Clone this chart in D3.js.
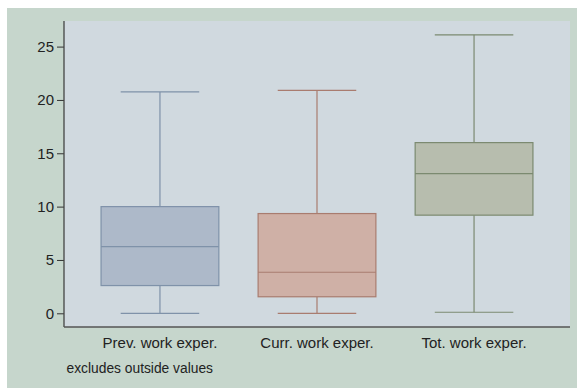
<!DOCTYPE html>
<html>
<head>
<meta charset="utf-8">
<script src="https://cdn.jsdelivr.net/npm/d3@7"></script>
<style>
  body { margin: 0; background: #ffffff; }
  text { font-family: "Liberation Sans", Arial, sans-serif; fill: #222; }
</style>
</head>
<body>
<script>
// box plot data
let categories = ["Prev. work exper.", "Curr. work exper.", "Tot. work exper."]
let lowerWhisker = [0, 0, 0.1]
let q1 = [2.6, 1.55, 9.2]
let median = [6.25, 3.85, 13.1]
let q3 = [10, 9.35, 16]
let upperWhisker = [20.75, 20.9, 26.1]
let yTicks = [0, 5, 10, 15, 20, 25]

let fills = ["#adb9c9", "#cfb0a6", "#b7bdae"]
let strokes = ["#7f92a9", "#a97c6f", "#7b8a70"]

let width = 577
let height = 388

let svg = d3.select("body")
    .append("svg")
    .attr("width", width)
    .attr("height", height)

// outer background
svg.append("rect")
    .attr("x", 7)
    .attr("y", 8)
    .attr("width", width - 7)
    .attr("height", height - 8)
    .style("fill", "#c6d6cc")

let plotLeft = 64, plotRight = 570, plotTop = 21, plotBottom = 327

svg.append("rect")
    .attr("x", plotLeft)
    .attr("y", plotTop)
    .attr("width", plotRight - plotLeft)
    .attr("height", plotBottom - plotTop)
    .style("fill", "#d0d9df")

let xScale = d3.scaleBand()
    .domain(categories)
    .range([plotLeft, plotRight])
    .paddingInner(0)
    .paddingOuter(0.111)

let yScale = d3.scaleLinear()
    .domain([0, 25])
    .range([313.3, 46.6])

let boxW = xScale.bandwidth() * 0.75
let capW = xScale.bandwidth() * 0.5

let rows = categories.map((c, i) => ({
    cat: c, lo: lowerWhisker[i], q1: q1[i], med: median[i], q3: q3[i], hi: upperWhisker[i],
    fill: fills[i], stroke: strokes[i]
}))

let g = svg.selectAll(".box")
    .data(rows)
    .enter()
    .append("g")
    .attr("class", "box")
    .attr("transform", (d) => "translate(" + (xScale(d.cat) + xScale.bandwidth() / 2) + ",0)")

// whiskers
g.append("line")
    .attr("x1", 0).attr("x2", 0)
    .attr("y1", (d) => yScale(d.q3))
    .attr("y2", (d) => yScale(d.hi))
    .style("stroke", (d) => d.stroke)
    .style("stroke-width", 1.2)
g.append("line")
    .attr("x1", 0).attr("x2", 0)
    .attr("y1", (d) => yScale(d.q1))
    .attr("y2", (d) => yScale(d.lo))
    .style("stroke", (d) => d.stroke)
    .style("stroke-width", 1.2)

// caps
g.append("line")
    .attr("x1", -capW / 2).attr("x2", capW / 2)
    .attr("y1", (d) => yScale(d.hi))
    .attr("y2", (d) => yScale(d.hi))
    .style("stroke", (d) => d.stroke)
    .style("stroke-width", 1.2)
g.append("line")
    .attr("x1", -capW / 2).attr("x2", capW / 2)
    .attr("y1", (d) => yScale(d.lo))
    .attr("y2", (d) => yScale(d.lo))
    .style("stroke", (d) => d.stroke)
    .style("stroke-width", 1.2)

// boxes
g.append("rect")
    .attr("x", -boxW / 2)
    .attr("width", boxW)
    .attr("y", (d) => yScale(d.q3))
    .attr("height", (d) => yScale(d.q1) - yScale(d.q3))
    .style("fill", (d) => d.fill)
    .style("stroke", (d) => d.stroke)
    .style("stroke-width", 1.2)

// median
g.append("line")
    .attr("x1", -boxW / 2).attr("x2", boxW / 2)
    .attr("y1", (d) => yScale(d.med))
    .attr("y2", (d) => yScale(d.med))
    .style("stroke", (d) => d.stroke)
    .style("stroke-width", 1.2)

// y axis
let yAxis = d3.axisLeft(yScale)
    .tickValues(yTicks)
    .tickSize(7)
    .tickPadding(3)
let yg = svg.append("g")
    .attr("transform", "translate(" + plotLeft + ",0)")
    .call(yAxis)
yg.select(".domain").remove()
yg.selectAll(".tick line").style("stroke", "#333")
yg.selectAll(".tick text")
    .style("font-size", "15px")
    .style("font-family", "Liberation Sans, Arial, sans-serif")
    .style("fill", "#222")

svg.append("line")
    .attr("x1", plotLeft).attr("x2", plotLeft)
    .attr("y1", plotTop).attr("y2", plotBottom)
    .style("stroke", "#444")
    .style("stroke-width", 1.3)

// x axis line + labels
let xAxis = d3.axisBottom(xScale).tickSize(0).tickPadding(10)
let xg = svg.append("g")
    .attr("transform", "translate(0," + plotBottom + ")")
    .call(xAxis)
xg.select(".domain").remove()
xg.selectAll(".tick text")
    .style("font-size", "15px")
    .style("font-family", "Liberation Sans, Arial, sans-serif")
    .style("fill", "#222")

svg.append("line")
    .attr("x1", plotLeft).attr("x2", plotRight)
    .attr("y1", plotBottom).attr("y2", plotBottom)
    .style("stroke", "#555")
    .style("stroke-width", 1.3)

// note
svg.append("text")
    .attr("x", 66.5)
    .attr("y", 373)
    .style("font-size", "13.8px")
    .text("excludes outside values")
</script>
</body>
</html>
